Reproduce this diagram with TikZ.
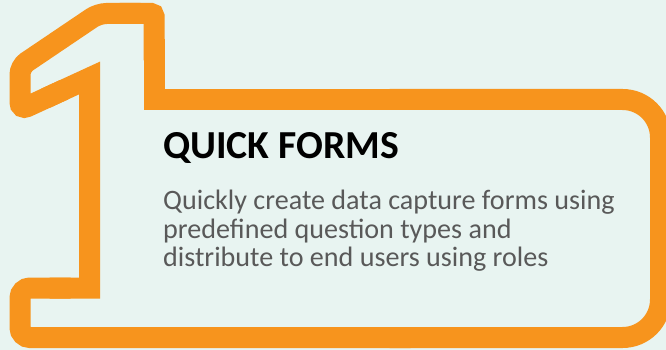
\documentclass[tikz,border=0pt]{standalone}
\usepackage{fontspec}
\setmainfont{Carlito}
\definecolor{bgmint}{HTML}{E8F4F1}
\definecolor{numorange}{HTML}{F7941D}
\definecolor{bodygray}{HTML}{595959}

\begin{document}
\begin{tikzpicture}[x=1pt,y=-1pt,
  outline/.style={draw=numorange, line width=21pt, line cap=rect, line join=miter},
  titletext/.style={anchor=base west, inner sep=0pt, text=black,
    font=\fontsize{39.7}{47}\selectfont\bfseries},
  bodytext/.style={anchor=base west, inner sep=0pt, text=bodygray,
    font=\fontsize{28.1}{29}\selectfont}]
% canvas
\fill[bgmint] (0,0) rectangle (666,350);
\useasboundingbox (0,0) rectangle (666,350);

% corner points of the "1" outline merged with the card
\coordinate (bt)  at (400,99.5);
\coordinate (btr) at (660.5,99.5);
\coordinate (bbr) at (660.5,337.5);
\coordinate (bb)  at (400,337.5);
\coordinate (bbl) at (20,337.5);
\coordinate (ftl) at (20,288);
\coordinate (fs)  at (60,288);
\coordinate (sb)  at (89.5,288);
\coordinate (st)  at (89.5,78);
\coordinate (dm)  at (54.75,94);
\coordinate (fl)  at (20,110);
\coordinate (ful) at (20,66.5);
\coordinate (ft)  at (98.5,13.5);
\coordinate (tm)  at (130,13.5);
\coordinate (ttr) at (154,13.5);
\coordinate (tv)  at (154,50);
\coordinate (tj)  at (154,99.5);

\begin{scope}
  \clip (0,0) rectangle (666,350);
  % card: right side with large rounded corners
  \draw[outline, rounded corners=38pt] (bt) -- (btr) -- (bbr) -- (bb);
  % foot of the numeral
  \draw[outline, rounded corners=10pt] (bb) -- (bbl) -- (ftl) -- (fs);
  % stem with sharp joins
  \draw[outline] (fs) -- (sb) -- (st) -- (dm);
  % flag of the numeral
  \draw[outline, rounded corners=8pt] (dm) -- (fl) -- (ful) -- (ft) -- (tm);
  \draw[outline, rounded corners=3pt] (tm) -- (ttr) -- (tv);
  \draw[outline] (tv) -- (tj) -- (bt);
\end{scope}

% texts
\node[titletext] (head) at (163,158.3) {QUICK FORMS};
\node[bodytext] (line1) at (163,209.3) {Quickly create data capture forms using};
\node[bodytext] (line2) at (163,238) {predefined question types and};
\node[bodytext] (line3) at (163,266.7) {distribute to end users using roles};
\end{tikzpicture}
\end{document}
